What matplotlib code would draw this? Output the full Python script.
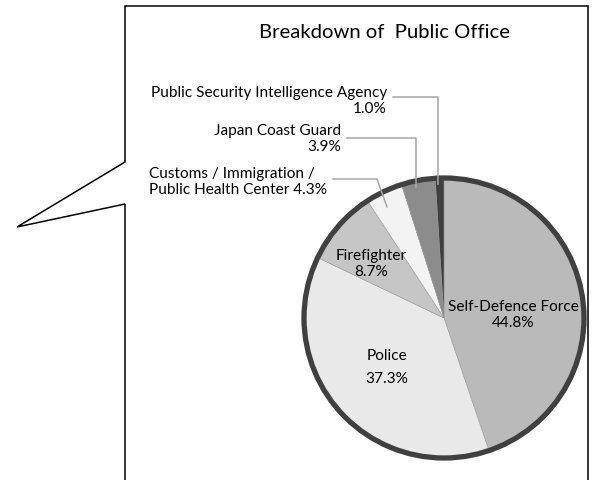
import matplotlib
matplotlib.use("Agg")
import matplotlib.pyplot as plt
from matplotlib.patches import Circle

# data
offices = ['Self-Defence Force', 'Police', 'Firefighter',
           'Customs / Immigration /\nPublic Health Center', 'Japan Coast Guard',
           'Public Security Intelligence Agency']
shares = [44.8, 37.3, 8.7, 4.3, 3.9, 1.0]
colors = ['#bababa', '#e9e9e9', '#c6c6c6', '#f3f3f3', '#8c8c8c', '#404040']

plt.rcParams['font.family'] = ['Lato', 'DejaVu Sans']

fig = plt.figure(figsize=(5.95, 4.81), dpi=100)
ax = fig.add_axes([0, 0, 1, 1])

# speech bubble outline
bx = [125, 125, 17, 125, 125, 588, 588]
by = [481, 205, 228, 163, 7, 7, 481]
ax.plot(bx, by, color='black', lw=1.1, solid_joinstyle='miter')

ax.text(384, 32, 'Breakdown of  Public Office', ha='center', va='center', fontsize=14.6)

# pie (y axis is inverted, so angles are mirrored)
cx, cy, r = 444, 319, 140
wedges, _ = ax.pie(shares, colors=colors, startangle=-90, counterclock=True,
                   center=(cx, cy), radius=r, frame=True,
                   wedgeprops=dict(linewidth=0.4, edgecolor='#999999'))
ax.set_xlim(0, 595)
ax.set_ylim(481, 0)
ax.set_aspect('equal')
ax.axis('off')
ax.add_patch(Circle((cx, cy), r, fill=False, edgecolor='#404040', lw=3.8))

fs = 11.1
ax.text(513, 315, offices[0] + '\n%.1f%%' % shares[0], ha='center', va='center',
        fontsize=fs, linespacing=1.12)
ax.text(387, 356, offices[1], ha='center', va='center', fontsize=fs)
ax.text(387, 379, '%.1f%%' % shares[1], ha='center', va='center', fontsize=fs)
ax.text(371, 264, offices[2] + '\n%.1f%%' % shares[2], ha='center', va='center',
        fontsize=fs, linespacing=1.12)

# outside labels with leader lines
ax.text(387, 101, offices[5] + '\n%.1f%%' % shares[5], ha='right', va='center',
        fontsize=fs, linespacing=1.18, multialignment='right')
ax.plot([393, 438, 438], [98, 98, 185], color='#a6a6a6', lw=1.1)

ax.text(341, 139, offices[4] + '\n%.1f%%' % shares[4], ha='right', va='center',
        fontsize=fs, linespacing=1.18, multialignment='right')
ax.plot([347, 416, 416], [139, 139, 188], color='#a6a6a6', lw=1.1)

ax.text(149, 182, offices[3] + ' %.1f%%' % shares[3], ha='left', va='center',
        fontsize=fs, linespacing=1.22)
ax.plot([333, 377, 387], [180, 180, 208], color='#a6a6a6', lw=1.1)

fig.savefig('out.png', dpi=100, facecolor='white')
